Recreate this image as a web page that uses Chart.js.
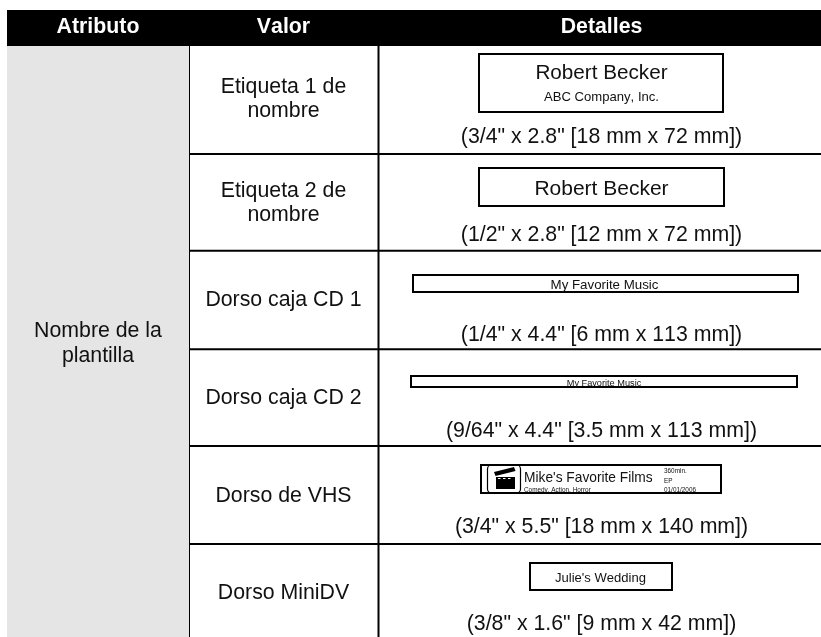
<!DOCTYPE html>
<html>
<head>
<meta charset="utf-8">
<style>
  html, body { margin: 0; padding: 0; background: #fff; }
  canvas { display: block; }
</style>
<script src="https://cdn.jsdelivr.net/npm/chart.js@4"></script>
</head>
<body>
<canvas id="tabla" width="821" height="637"></canvas>
<script>
// Contenido de la tabla
const encabezados = ['Atributo', 'Valor', 'Detalles'];
const atributo = ['Nombre de la', 'plantilla'];
const valores = [
    ['Etiqueta 1 de', 'nombre'],
    ['Etiqueta 2 de', 'nombre'],
    ['Dorso caja CD 1'],
    ['Dorso caja CD 2'],
    ['Dorso de VHS'],
    ['Dorso MiniDV']
];
const medidas = [
    '(3/4" x 2.8" [18 mm x 72 mm])',
    '(1/2" x 2.8" [12 mm x 72 mm])',
    '(1/4" x 4.4" [6 mm x 113 mm])',
    '(9/64" x 4.4" [3.5 mm x 113 mm])',
    '(3/4" x 5.5" [18 mm x 140 mm])',
    '(3/8" x 1.6" [9 mm x 42 mm])'
];
const textosEtiqueta = [
    'Robert Becker', 'ABC Company, Inc.', 'Robert Becker', 'My Favorite Music', 'My Favorite Music',
    "Mike's Favorite Films", 'Comedy, Action, Horror', '360min.', 'EP', '01/01/2006', "Julie's Wedding"
];

// Geometria, en las unidades de los ejes (igual a pixeles)
const ANCHO = 821, ALTO = 637;
const columnas = [7, 189, 378.5, 821];
const filas = [10, 46, 154, 250.7, 349.2, 446, 544, 637];
const centrosColumna = [98, 283.5, 601.5];
const baseValores = [[93.3, 117.3], [196.7, 221], [305.7], [404], [501.7], [599]];
const baseMedidas = [143.3, 240.7, 340.7, 436.7, 533, 630];
const baseAtributo = [336.7, 361.7];
const baseEncabezado = 33.3;
// [x1, y1, x2, y2] de cada recuadro
const recuadros = [
    [479, 54, 723, 112],
    [479, 168, 724, 206],
    [413, 275, 798, 292],
    [411, 376, 797, 387],
    [481, 465, 721, 493],
    [530, 563, 672, 590]
];
// [x, y base, tamano, alineacion] de cada texto de etiqueta
const posEtiqueta = [
    [601.5, 79, 20.7, 'center'], [601.5, 100.5, 13.1, 'center'], [601.5, 194.5, 21, 'center'],
    [604.5, 289, 13.3, 'center'], [604, 385.5, 9.2, 'center'],
    [524, 482, 13.75, 'left'], [524, 491.5, 6.4, 'left'], [664, 473, 6.4, 'left'], [664, 483, 6.4, 'left'], [664, 492, 6.4, 'left'],
    [600.5, 582, 13.06, 'center']
];
const GRIS = '#e5e5e5';

function segmento(x1, y1, x2, y2, color, grosor) {
    return {
        data: [{ x: x1, y: y1 }, { x: x2, y: y2 }],
        borderColor: color,
        borderWidth: grosor,
        pointRadius: 0,
        borderCapStyle: 'butt',
        tension: 0
    };
}

function crearConjuntos() {
    const conjuntos = [];
    // fondo gris de la primera columna y banda negra
    const xGris = (columnas[0] + columnas[1]) / 2;
    conjuntos.push(segmento(xGris, filas[1], xGris, ALTO, GRIS, columnas[1] - columnas[0]));
    conjuntos.push(segmento(columnas[0], (filas[0] + filas[1]) / 2, ANCHO, (filas[0] + filas[1]) / 2, '#000', filas[1] - filas[0]));
    // separadores de columna
    [columnas[1], columnas[2]].forEach(x => {
        conjuntos.push(segmento(x, 12, x, 44.5, '#fff', 1.8));
        conjuntos.push(segmento(x, filas[1], x, ALTO, '#000', 2));
    });
    // separadores de fila
    filas.slice(2, 7).forEach(y => {
        conjuntos.push(segmento(columnas[1], y, ANCHO, y, '#000', 2));
    });
    // recuadros de las etiquetas
    recuadros.forEach(r => {
        conjuntos.push({
            data: [
                { x: r[0], y: r[1] }, { x: r[2], y: r[1] }, { x: r[2], y: r[3] },
                { x: r[0], y: r[3] }, { x: r[0], y: r[1] }
            ],
            borderColor: '#000',
            borderWidth: 2,
            pointRadius: 0,
            borderCapStyle: 'square',
            borderJoinStyle: 'miter',
            tension: 0
        });
    });
    return conjuntos;
}

const textosTabla = {
    id: 'textosTabla',
    afterDatasetsDraw(chart) {
        const ctx = chart.ctx;
        const px = v => chart.scales.x.getPixelForValue(v);
        const py = v => chart.scales.y.getPixelForValue(v);
        const fuente = (t, negrita) => (negrita ? 'bold ' : '') + t + 'px "Liberation Sans", Arial, sans-serif';
        const escribir = (texto, x, y) => ctx.fillText(texto, px(x), py(y));

        ctx.save();
        ctx.textBaseline = 'alphabetic';
        ctx.textAlign = 'center';
        ctx.fontKerning = 'none';

        ctx.fillStyle = '#fff';
        ctx.font = fuente(21.3, true);
        encabezados.forEach((t, i) => escribir(t, centrosColumna[i], baseEncabezado));

        ctx.fillStyle = '#111';
        ctx.font = fuente(21.3);
        atributo.forEach((t, i) => escribir(t, centrosColumna[0], baseAtributo[i]));
        valores.forEach((lineas, i) => {
            lineas.forEach((t, j) => escribir(t, centrosColumna[1], baseValores[i][j]));
        });
        medidas.forEach((t, i) => escribir(t, centrosColumna[2], baseMedidas[i]));

        textosEtiqueta.forEach((t, i) => {
            const p = posEtiqueta[i];
            ctx.font = fuente(p[2]);
            ctx.textAlign = p[3];
            escribir(t, p[0], p[1]);
        });

        // icono de la claqueta
        ctx.strokeStyle = '#000';
        ctx.lineWidth = 1.2;
        ctx.beginPath();
        ctx.roundRect(px(487.5), py(465), 33, 28, 4);
        ctx.stroke();
        ctx.fillStyle = '#000';
        ctx.fillRect(px(496), py(477), 19, 12);
        ctx.beginPath();
        ctx.moveTo(px(494), py(472)); ctx.lineTo(px(514), py(467)); ctx.lineTo(px(515.5), py(471));
        ctx.lineTo(px(495.5), py(476)); ctx.closePath();
        ctx.fill();
        ctx.fillStyle = '#fff';
        [498, 503, 508].forEach(x => ctx.fillRect(px(x), py(478), 2.5, 1));
        ctx.restore();
    }
};

new Chart(document.getElementById('tabla').getContext('2d'), {
    type: 'line',
    data: { datasets: crearConjuntos() },
    options: {
        responsive: false,
        animation: false,
        layout: { padding: 0 },
        plugins: { legend: { display: false }, tooltip: { enabled: false } },
        scales: {
            x: { type: 'linear', min: 0, max: ANCHO, display: false },
            y: { type: 'linear', min: 0, max: ALTO, reverse: true, display: false }
        }
    },
    plugins: [textosTabla]
});
</script>
</body>
</html>
